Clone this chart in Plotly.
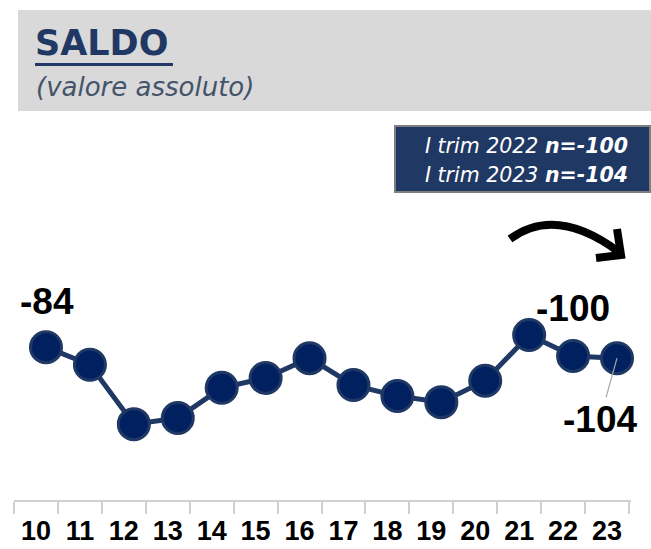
import plotly.graph_objects as go

# ---- data ----
periods = [10, 11, 12, 13, 14, 15, 16, 17, 18, 19, 20, 21, 22, 23]
tick_labels = [str(p) for p in periods]
saldo = [-84, -116, -224, -213, -158, -140, -104, -153, -173, -184, -145, -62, -100, -104]
title_text = "SALDO"
subtitle_text = "(valore assoluto)"
box_line1 = ("I trim 2022 ", "n=-100")
box_line2 = ("I trim 2023 ", "n=-104")

W, H = 651, 549
NAVY = "#1f3864"
FILL = "#002060"
DY = 3  # global vertical nudge in pixels


def px(x):
    return x / W


def py(y):
    return 1 - (y + DY) / H


fig = go.Figure()

fig.add_trace(go.Scatter(
    x=periods, y=saldo, mode="lines+markers",
    line=dict(color=NAVY, width=5),
    marker=dict(size=31, color=FILL, line=dict(color=NAVY, width=3)),
    hoverinfo="skip", cliponaxis=False,
))

shapes = []
# header grey band
shapes.append(dict(type="rect", xref="paper", yref="paper",
                   x0=px(18), x1=px(651), y0=py(108), y1=py(7),
                   fillcolor="#d9d9d9", line=dict(width=0), layer="below"))
# title underline
shapes.append(dict(type="rect", xref="paper", yref="paper",
                   x0=px(35), x1=px(173), y0=py(63), y1=py(60),
                   fillcolor=NAVY, line=dict(width=0)))
# info box
shapes.append(dict(type="rect", xref="paper", yref="paper",
                   x0=px(395), x1=px(650), y0=py(189), y1=py(123),
                   fillcolor=NAVY, line=dict(color="#7f7f7f", width=2)))


def P(x, y):
    return f"{px(x)},{py(y)}"


# curved arrow
shapes.append(dict(type="path", xref="paper", yref="paper",
                   path=f"M {P(510,236)} Q {P(556,202)} {P(619,249)}",
                   line=dict(color="black", width=8)))
shapes.append(dict(type="path", xref="paper", yref="paper",
                   path=f"M {P(617,226)} L {P(621,252)} L {P(596,255)}",
                   line=dict(color="black", width=8)))

annotations = []
annotations.append(dict(xref="paper", yref="paper", x=px(33), y=py(40),
                        xanchor="left", yanchor="middle", showarrow=False,
                        text=f"<b>{title_text}</b>",
                        font=dict(family="DejaVu Sans", size=35, color=NAVY)))
annotations.append(dict(xref="paper", yref="paper", x=px(34), y=py(84),
                        xanchor="left", yanchor="middle", showarrow=False,
                        text=f"<i>{subtitle_text}</i>",
                        font=dict(family="DejaVu Sans", size=26, color="#44546a")))
for line, yc in ((box_line1, 143), (box_line2, 172)):
    annotations.append(dict(xref="paper", yref="paper", x=px(630), y=py(yc),
                            xanchor="right", yanchor="middle", showarrow=False,
                            text=f"<i>{line[0]}<b>{line[1]}</b></i>",
                            font=dict(family="DejaVu Sans", size=20.5, color="white")))

lab_font = dict(family="Liberation Sans", size=37, color="black")
annotations.append(dict(x=periods[0], y=saldo[0], xref="x", yref="y",
                        text=f"<b>{saldo[0]}</b>", showarrow=False,
                        yshift=46, xshift=1, font=lab_font))
annotations.append(dict(x=periods[-2], y=saldo[-2], xref="x", yref="y",
                        text=f"<b>{saldo[-2]}</b>", showarrow=False,
                        yshift=47, xshift=0, font=lab_font))
annotations.append(dict(x=periods[-1], y=saldo[-1], xref="x", yref="y",
                        text=f"<b>{saldo[-1]}</b>", showarrow=True,
                        ax=-17, ay=61, arrowhead=0, arrowwidth=1.2,
                        arrowcolor="#a6a6a6", standoff=0,
                        font=lab_font))

# axis geometry
unit = (617 - 46) / 13.0
x_left, x_right = 14, 631
xr0 = periods[0] - (46 - x_left) / unit
xr1 = periods[-1] + (x_right - 617) / unit
label_shift = -10 / unit
tickvals = [p + label_shift for p in periods]
minor_vals = [p + label_shift - 0.5 for p in periods] + [periods[-1] + label_shift + 0.5]

fig.update_layout(
    width=W, height=H,
    margin=dict(l=0, r=0, t=0, b=0),
    paper_bgcolor="white", plot_bgcolor="white",
    showlegend=False,
    shapes=shapes, annotations=annotations,
    xaxis=dict(domain=[px(x_left), px(x_right)], range=[xr0, xr1],
               tickmode="array", tickvals=tickvals,
               ticktext=[f"<b>{t}</b>" for t in tick_labels],
               ticks="", showgrid=False, zeroline=False,
               showline=True, linecolor="#d0d0d0", linewidth=2,
               tickfont=dict(family="Liberation Sans", size=27, color="black"),
               ticklabelstandoff=6,
               minor=dict(tickmode="array", tickvals=minor_vals, ticks="outside",
                          ticklen=12, tickcolor="#d0d0d0", tickwidth=2, showgrid=False)),
    yaxis=dict(domain=[py(497), py(0)], range=[-362, 542], visible=False),
)

fig.write_html("out.html", config={"displayModeBar": False},
               post_script="document.body.style.margin='0px';document.body.style.overflow='hidden';")
